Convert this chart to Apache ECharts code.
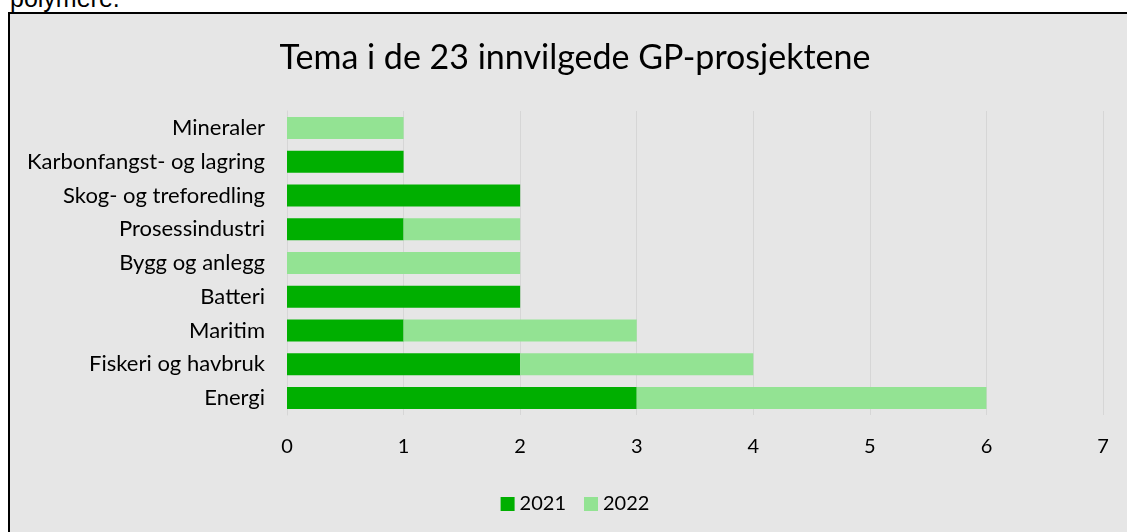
<!DOCTYPE html>
<html>
<head>
<meta charset="utf-8">
<script src="https://cdn.jsdelivr.net/npm/echarts@6/dist/echarts.min.js"></script>
<style>
  html, body { margin: 0; padding: 0; background: #fff; overflow: hidden; }
  #note { position: absolute; left: 10px; top: -14px; line-height: 1; font-family: "Liberation Sans", Arial, sans-serif; font-size: 25px; color: #000; }
  #box { position: absolute; left: 8px; top: 12px; width: 1140px; height: 540px; border: 2px solid #000; background: #e6e6e6; }
  #chart { width: 1130px; height: 530px; }
</style>
</head>
<body>
<div id="note">polymere.</div>
<div id="box"><div id="chart"></div></div>
<script>
// temaer, ovenfra og ned
var categories = ['Mineraler', 'Karbonfangst- og lagring', 'Skog- og treforedling', 'Prosessindustri',
    'Bygg og anlegg', 'Batteri', 'Maritim', 'Fiskeri og havbruk', 'Energi'];
var values2021 = [0, 1, 2, 1, 0, 2, 1, 2, 3];
var values2022 = [1, 0, 0, 1, 2, 0, 2, 2, 3];
var seriesNames = ['2021', '2022'];

var font = 'Lato, "Open Sans", sans-serif';
var myChart = echarts.init(document.getElementById('chart'));
var option = {
    backgroundColor: '#e6e6e6',
    color: ['#00af00', '#93e393'],
    textStyle: { fontFamily: font },
    title: {
        text: 'Tema i de 23 innvilgede GP-prosjektene',
        left: 'center',
        top: 22,
        textStyle: { fontFamily: font, fontSize: 34, fontWeight: 'normal', color: '#000' }
    },
    legend: {
        data: seriesNames,
        left: 'center',
        top: 475,
        itemWidth: 14,
        itemHeight: 14,
        itemGap: 18,
        icon: 'rect',
        textStyle: { fontFamily: font, fontSize: 20, color: '#000' }
    },
    grid: { left: 277, right: 37, top: 97, height: 304 },
    xAxis: {
        type: 'value',
        min: 0,
        max: 7,
        interval: 1,
        axisLine: { show: false },
        axisTick: { show: false },
        axisLabel: { fontFamily: font, fontSize: 20, color: '#000', margin: 22 },
        splitLine: { lineStyle: { color: '#d6d6d6', width: 1 } }
    },
    yAxis: {
        type: 'category',
        data: categories,
        inverse: true,
        axisLine: { lineStyle: { color: '#d6d6d6' } },
        axisTick: { show: false },
        axisLabel: { fontFamily: font, fontSize: 22, color: '#000', margin: 22 }
    },
    series: [
        { name: seriesNames[0], type: 'bar', stack: 'tot', barWidth: 22, data: values2021 },
        { name: seriesNames[1], type: 'bar', stack: 'tot', barWidth: 22, data: values2022 }
    ]
};
myChart.setOption(option);
</script>
</body>
</html>
